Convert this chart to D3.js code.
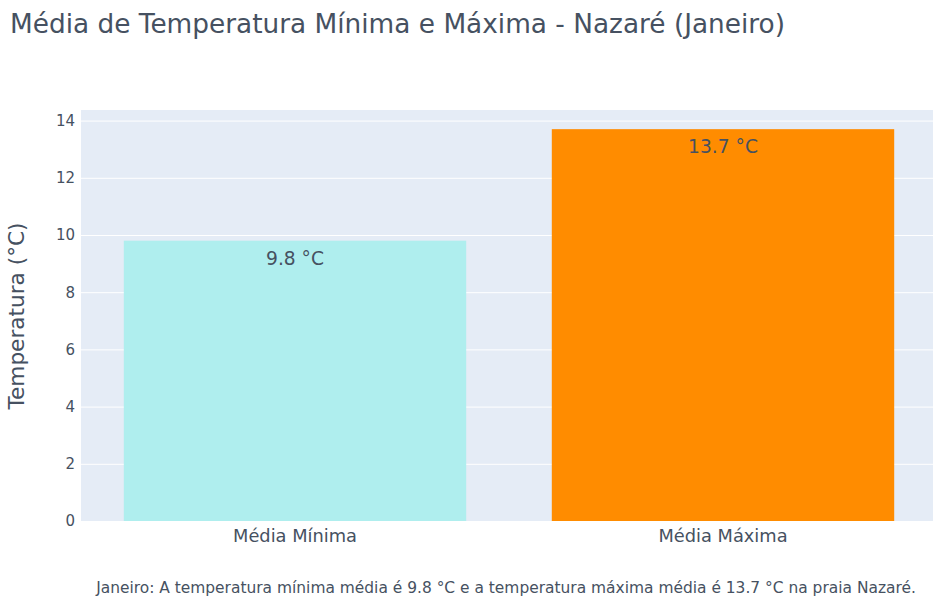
<!DOCTYPE html>
<html>
<head>
<meta charset="utf-8">
<script src="https://cdn.jsdelivr.net/npm/d3@7"></script>
<style>
  body { margin: 0; background: #fff; }
  svg { display: block; }
  svg text { font-family: "DejaVu Sans", Verdana, sans-serif; }
</style>
</head>
<body>
<svg id="chart" width="933" height="599"></svg>
<script>
// data
var categories = ["Média Mínima", "Média Máxima"];
var values = [9.8, 13.7];
var barColors = ["#afeeee", "#ff8c00"];
var yTicks = [0, 2, 4, 6, 8, 10, 12, 14];
var titleText = "Média de Temperatura Mínima e Máxima - Nazaré (Janeiro)";
var yTitle = "Temperatura (°C)";
var noteText = "Janeiro: A temperatura mínima média é 9.8 °C e a temperatura máxima média é 13.7 °C na praia Nazaré.";

var svg = d3.select("#chart");
var textColor = "#465161";

var plot = {left: 81, right: 937, top: 110, bottom: 521};

// scale font so the text takes the width seen in the picture
function fitWidth(sel, target){
  var node = sel.node();
  var fs = parseFloat(sel.style("font-size"));
  var w = node.getComputedTextLength();
  sel.style("font-size", (fs * target / w).toFixed(2) + "px");
}

var x = d3.scaleBand()
  .domain(categories)
  .range([plot.left, plot.right])
  .paddingInner(0.2)
  .paddingOuter(0.1);

var y = d3.scaleLinear()
  .domain([0, 14.37])
  .range([plot.bottom, plot.top]);

// background
svg.append("rect")
  .attr("x", plot.left)
  .attr("y", plot.top)
  .attr("width", plot.right - plot.left)
  .attr("height", plot.bottom - plot.top)
  .attr("fill", "#e5ecf6");

// grid + y axis
var yAxis = d3.axisLeft(y)
  .tickValues(yTicks)
  .tickSize(-(plot.right - plot.left))
  .tickPadding(6)
  .tickFormat(d3.format("d"));

var gy = svg.append("g")
  .attr("transform", "translate(" + plot.left + ",0)")
  .call(yAxis)
  .attr("font-family", null);
gy.select(".domain").remove();
gy.selectAll(".tick line").attr("stroke", "#fff").attr("stroke-width", 1);
gy.selectAll(".tick text")
  .attr("fill", textColor)
  .style("font-size", "15px");

// bars
svg.append("g").selectAll("rect")
  .data(values)
  .enter()
  .append("rect")
  .attr("x", function(d, i){ return x(categories[i]); })
  .attr("y", function(d){ return y(d); })
  .attr("width", x.bandwidth())
  .attr("height", function(d){ return y(0) - y(d); })
  .attr("fill", function(d, i){ return barColors[i]; });

// bar labels
svg.append("g").selectAll("text")
  .data(values)
  .enter()
  .append("text")
  .attr("x", function(d, i){ return x(categories[i]) + x.bandwidth() / 2; })
  .attr("y", function(d){ return y(d) + 24; })
  .attr("text-anchor", "middle")
  .attr("fill", textColor)
  .style("font-size", "15px")
  .text(function(d){ return d + " °C"; })
  .each(function(d, i){ if(i == 0) fitWidth(d3.select(this), 58); })
  .style("font-size", function(){ return d3.select(this.parentNode).select("text").style("font-size"); });

// x axis
var xAxis = d3.axisBottom(x).tickSize(0).tickPadding(0);
var gx = svg.append("g")
  .attr("transform", "translate(0," + plot.bottom + ")")
  .call(xAxis)
  .attr("font-family", null);
gx.select(".domain").remove();
gx.selectAll(".tick text")
  .attr("dy", null)
  .attr("y", 21)
  .attr("fill", textColor)
  .style("font-size", "16px");
fitWidth(gx.select(".tick text"), 124);
gx.selectAll(".tick text").style("font-size", gx.select(".tick text").style("font-size"));

// titles
var title = svg.append("text")
  .attr("x", 10)
  .attr("y", 33)
  .attr("fill", textColor)
  .style("font-size", "24px")
  .text(titleText);
fitWidth(title, 775);

var yt = svg.append("text")
  .attr("transform", "translate(24,316) rotate(-90)")
  .attr("text-anchor", "middle")
  .attr("fill", textColor)
  .style("font-size", "18px")
  .text(yTitle);
fitWidth(yt, 187);

var note = svg.append("text")
  .attr("x", 506)
  .attr("y", 593)
  .attr("text-anchor", "middle")
  .attr("fill", textColor)
  .style("font-size", "12px")
  .text(noteText);
fitWidth(note, 820);
</script>
</body>
</html>
